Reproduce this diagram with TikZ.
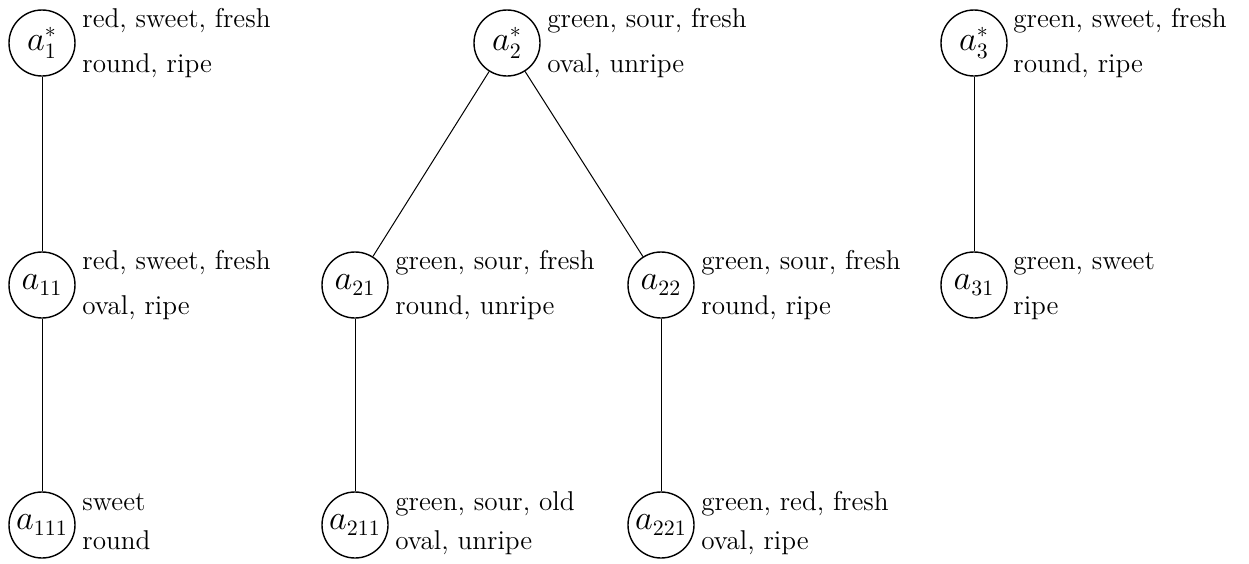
\documentclass[tikz,border=0pt]{standalone}
\begin{document}
\begin{tikzpicture}[x=0.5pt,y=-0.5pt,
  tnode/.style={circle,draw,line width=0.7pt,minimum size=33pt,inner sep=0pt,font=\fontsize{16}{18}\selectfont},
  attr/.style={anchor=base west,inner sep=0pt,font=\fontsize{13.6}{16}\selectfont},
  edge/.style={line width=0.5pt}]
\useasboundingbox (0,0) rectangle (1249,563);
% tree nodes
\node[tnode] (a1)   at (42,43)   {$a_1^*$};
\node[tnode] (a2)   at (507,43)  {$a_2^*$};
\node[tnode] (a3)   at (974,43)  {$a_3^*$};
\node[tnode] (a11)  at (42,285)  {$a_{11}$};
\node[tnode] (a21)  at (355,285) {$a_{21}$};
\node[tnode] (a22)  at (661,285) {$a_{22}$};
\node[tnode] (a31)  at (974,285) {$a_{31}$};
\node[tnode] (a111) at (42,525)  {$a_{111}$};
\node[tnode] (a211) at (355,525) {$a_{211}$};
\node[tnode] (a221) at (661,525) {$a_{221}$};
% edges
\draw[edge] (a1) -- (a11);
\draw[edge] (a11) -- (a111);
\draw[edge] (a2) -- (a21);
\draw[edge] (a2) -- (a22);
\draw[edge] (a21) -- (a211);
\draw[edge] (a22) -- (a221);
\draw[edge] (a3) -- (a31);
% attribute texts
\node[attr] (t1a) at (82,27) {red, sweet, fresh};
\node[attr] (t1b) at (82,72) {round, ripe};
\node[attr] (t2a) at (547,27) {green, sour, fresh};
\node[attr] (t2b) at (547,72) {oval, unripe};
\node[attr] (t3a) at (1013,27) {green, sweet, fresh};
\node[attr] (t3b) at (1013,72) {round, ripe};
\node[attr] (t11a) at (82,269) {red, sweet, fresh};
\node[attr] (t11b) at (82,314) {oval, ripe};
\node[attr] (t21a) at (395,269) {green, sour, fresh};
\node[attr] (t21b) at (395,314) {round, unripe};
\node[attr] (t22a) at (701,269) {green, sour, fresh};
\node[attr] (t22b) at (701,314) {round, ripe};
\node[attr] (t31a) at (1013,269) {green, sweet};
\node[attr] (t31b) at (1013,314) {ripe};
\node[attr] (t111a) at (82,510) {sweet};
\node[attr] (t111b) at (82,549) {round};
\node[attr] (t211a) at (395,510) {green, sour, old};
\node[attr] (t211b) at (395,549) {oval, unripe};
\node[attr] (t221a) at (701,510) {green, red, fresh};
\node[attr] (t221b) at (701,549) {oval, ripe};
\end{tikzpicture}
\end{document}
